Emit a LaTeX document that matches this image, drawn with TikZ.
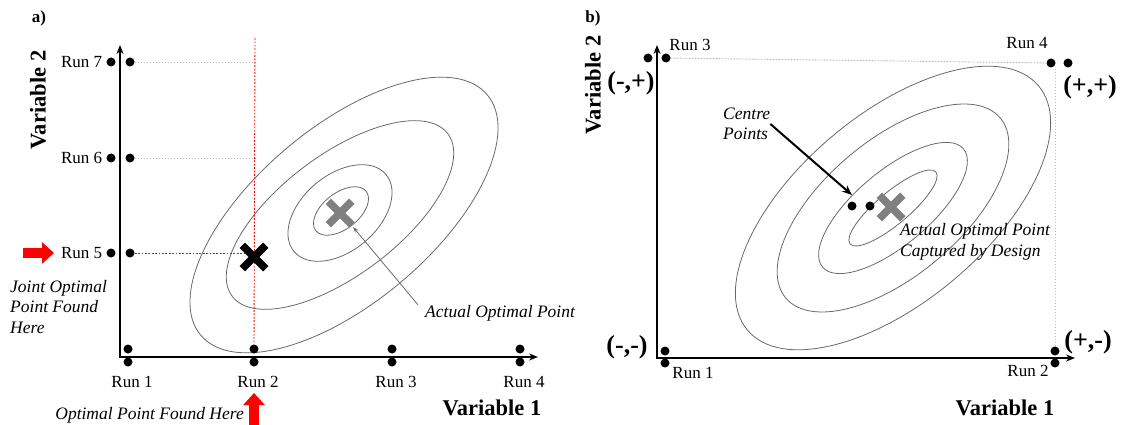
\documentclass[tikz,border=0pt]{standalone}
\usepackage{fontspec}
\setmainfont{Liberation Serif}
\usepackage{tikz}
\usetikzlibrary{arrows.meta,calc,positioning,shapes.misc}
\definecolor{optred}{RGB}{255,0,0}
\definecolor{optgrey}{RGB}{128,128,128}
\definecolor{contourgrey}{RGB}{105,105,105}
\definecolor{guidegrey}{RGB}{185,185,185}
\tikzset{
  axis/.style={{Stealth[length=9pt,width=7pt]}-{Stealth[length=9pt,width=7pt]},
    line width=2.4pt},
  rundot/.style={circle,fill=black,inner sep=0pt,minimum size=9pt},
  contour/.style={draw=contourgrey,line width=0.8pt},
  guide/.style={draw=guidegrey,line width=0.9pt,dash pattern=on 1.6pt off 1.4pt},
  redguide/.style={draw=optred,line width=0.9pt,dash pattern=on 1.8pt off 1.6pt},
  xmark/.style={cross out,draw=#1,line width=7.5pt,minimum size=16pt,inner sep=0pt},
  redarrow/.style={draw=optred,line width=10pt,-{Triangle[length=12pt,width=21pt]}},
  pointer/.style={draw=contourgrey,line width=0.8pt,-{Stealth[length=6pt,width=4pt]}},
  bigpointer/.style={line width=2pt,-{Stealth[length=10pt,width=8pt]}},
  runlabel/.style={font=\fontsize{17}{19}\selectfont,inner sep=0pt},
  note/.style={font=\fontsize{17.5}{20.5}\selectfont\itshape,align=left,inner sep=0pt},
  axislabel/.style={font=\fontsize{22.5}{24}\selectfont\bfseries,inner sep=0pt},
  signlabel/.style={font=\fontsize{26}{28}\selectfont\bfseries,inner sep=0pt},
  panellabel/.style={font=\fontsize{17}{20}\selectfont\bfseries,inner sep=0pt}
}

\begin{document}
\begin{tikzpicture}[x=1pt,y=-1pt]
  \useasboundingbox (0,0) rectangle (1125,425);
  % a) one variable at a time
  \node[panellabel] at (39,18) {a)};
  \draw[contour,rotate around={40:(344,215)}] (344,215) ellipse [x radius=187,y radius=88];
  \draw[contour,rotate around={37:(340,215)}] (340,215) ellipse [x radius=135,y radius=60];
  \draw[contour,rotate around={40:(340,213)}] (340,213) ellipse [x radius=60,y radius=38];
  \draw[contour,rotate around={38:(341,211)}] (341,211) ellipse [x radius=32,y radius=18];
  \foreach \n/\y in {7/62,6/158,5/253} {
    \node[rundot] (aL\n) at (111,\y) {};
    \node[rundot] (aR\n) at (130,\y) {};
    \node[runlabel,left=4pt of aL\n] (aRun\n) {Run \n};
  }
  \foreach \n/\x in {1/128,2/254,3/392,4/520} {
    \node[rundot] (aT\n) at (\x,349) {};
    \node[rundot] (aB\n) at (\x,362) {};
    \node[runlabel] (aRun\n) at (\x+4,382) {Run \n};
  }
  \coordinate (aRedTop) at (255,38);
  \draw[guide] (aR7) -- (aRedTop |- aR7);
  \draw[guide] (aR6) -- (aRedTop |- aR6);
  \draw[redguide] (aR5) -- (aRedTop |- aR5);
  \draw[redguide] (aRedTop) -- (aT2);
  \coordinate (aYtip) at (120,45);
  \coordinate (aXtip) at (538,357);
  \draw[axis] (aYtip) |- (aXtip);
  \node[xmark=black] (aFound) at (254,257) {};
  \node[xmark=optgrey] (aOpt) at (340,213) {};
  \node[note,anchor=west] (aAop) at (425,313) {Actual Optimal Point};
  \draw[pointer] ([xshift=-7pt]aAop.north west) -- ($(aOpt)+(13,14)$);
  \coordinate (aJointTail) at (23,253);
  \coordinate (aJointHead) at (54,253);
  \draw[redarrow] (aJointTail) -- (aJointHead);
  \node[note,anchor=west] (aJoint) at (10,307) {Joint Optimal\\Point Found\\Here};
  \coordinate (aFoundTail) at (254,425);
  \coordinate (aFoundHead) at (254,393);
  \draw[redarrow] (aFoundTail) -- (aFoundHead);
  \node[note,anchor=east] (aHere) at (244,415) {Optimal Point Found Here};
  \node[axislabel,rotate=90] at (38,100) {Variable 2};
  \node[axislabel] at (492,408) {Variable 1};

  % b) two-level factorial with centre points
  \node[panellabel] at (593,18) {b)};
  \foreach \rx/\ry in {190/94,140/68,92/37,56/16}
    \draw[contour,rotate around={40:(893,208)}] (893,208) ellipse [x radius=\rx,y radius=\ry];
  \node[rundot] (bL3) at (648,58) {};
  \node[rundot] (bR3) at (666,58) {};
  \node[rundot] (bL4) at (1051,63) {};
  \node[rundot] (bR4) at (1068,63) {};
  \node[rundot] (bT1) at (665,351) {};
  \node[rundot] (bB1) at (665,363) {};
  \node[rundot] (bT2) at (1055,351) {};
  \node[rundot] (bB2) at (1055,363) {};
  \draw[guide] (bR3) -- (bL4);
  \draw[guide] (bT2) -- (bT2 |- bL4.south);
  \coordinate (bYtip) at (657,45);
  \coordinate (bXtip) at (1075,358);
  \draw[axis] (bYtip) |- (bXtip);
  \node[runlabel] at (690,45) {Run 3};
  \node[runlabel] at (1027,43) {Run 4};
  \node[runlabel] at (693,373) {Run 1};
  \node[runlabel] at (1028,371) {Run 2};
  \node[signlabel] at (631,83) {(-,+)};
  \node[signlabel] at (1090,87) {(+,+)};
  \node[signlabel] at (627,347) {(-,-)};
  \node[signlabel] at (1088,342) {(+,-)};
  \node[rundot] (bC1) at (852,206) {};
  \node[rundot] (bC2) at (870,206) {};
  \node[xmark=optgrey] (bOpt) at (891,207) {};
  \node[note,anchor=west] (bCp) at (723,124) {Centre\\Points};
  \draw[bigpointer] (bCp.east) -- ($(bC1)+(0,-11)$);
  \node[note,anchor=west] (bAop) at (900,242) {Actual Optimal Point\\Captured by Design};
  \node[axislabel,rotate=90] at (593,85) {Variable 2};
  \node[axislabel] at (1005,408) {Variable 1};
\end{tikzpicture}
\end{document}
